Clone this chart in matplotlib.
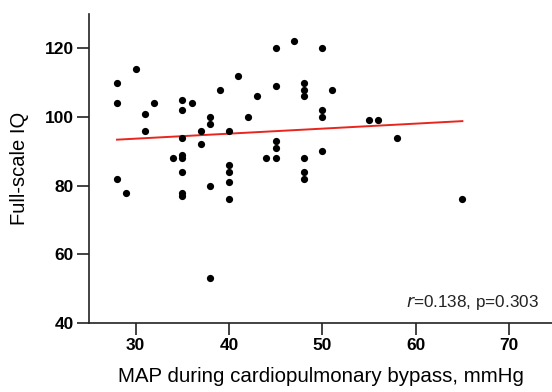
import numpy as np
import matplotlib
matplotlib.use("Agg")
import matplotlib.pyplot as plt

plt.rcParams['font.family'] = ['Liberation Sans', 'DejaVu Sans']

map_mmhg = [28, 28, 28, 29, 30, 31, 31, 32, 34, 35, 35, 35, 35, 35, 35, 35, 35,
            36, 37, 37, 38, 38, 38, 38, 39, 40, 40, 40, 40, 40, 41, 42, 43, 44,
            45, 45, 45, 45, 45, 47, 48, 48, 48, 48, 48, 48, 50, 50, 50, 50, 51,
            55, 56, 58, 65]
fsiq = [110, 104, 82, 78, 114, 101, 96, 104, 88, 105, 102, 94, 89, 88, 84, 78, 77,
        104, 96, 92, 100, 98, 80, 53, 108, 96, 86, 84, 81, 76, 112, 100, 106, 88,
        120, 109, 93, 91, 88, 122, 110, 108, 106, 88, 84, 82, 120, 102, 100, 90, 108,
        99, 99, 94, 76]
x_ticks = [30, 40, 50, 60, 70]
y_ticks = [40, 60, 80, 100, 120]
annotation = "=0.138, p=0.303"

x = np.array(map_mmhg, dtype=float)
y = np.array(fsiq, dtype=float)

fig = plt.figure(figsize=(5.52, 3.92), dpi=100)
ax = fig.add_axes([89/552, 1-323/392, 1-89/552, (323-14)/392])

ax.scatter(x, y, s=27, color='black', zorder=3, linewidths=0)
slope, intercept = np.polyfit(x, y, 1)
xl = np.array([x.min(), x.max()])
ax.plot(xl, slope*xl + intercept, color='#e8261f', lw=1.4, zorder=2)

ax.set_xlim(25, 74.6)
ax.set_ylim(40, 130)
ax.set_xticks(x_ticks)
ax.set_yticks(y_ticks)
for s in ['top', 'right']:
    ax.spines[s].set_visible(False)
for s in ['left', 'bottom']:
    ax.spines[s].set_linewidth(1.2)
    ax.spines[s].set_color('#222222')
ax.tick_params(axis='both', length=8.5, width=1.2, color='#222222', pad=2.5,
               labelsize=12.5)
for lab in ax.get_xticklabels() + ax.get_yticklabels():
    lab.set_fontweight('bold')

ax.set_xlabel('MAP during cardiopulmonary bypass, mmHg', fontsize=14.8, labelpad=10)
ax.set_ylabel('Full-scale IQ', fontsize=14.5, labelpad=11)

ax.text(0.972, 0.035, r'$\it{r}$' + annotation, transform=ax.transAxes,
        ha='right', va='bottom', fontsize=12.3, color='#222222')

fig.savefig('out.png', dpi=100)
